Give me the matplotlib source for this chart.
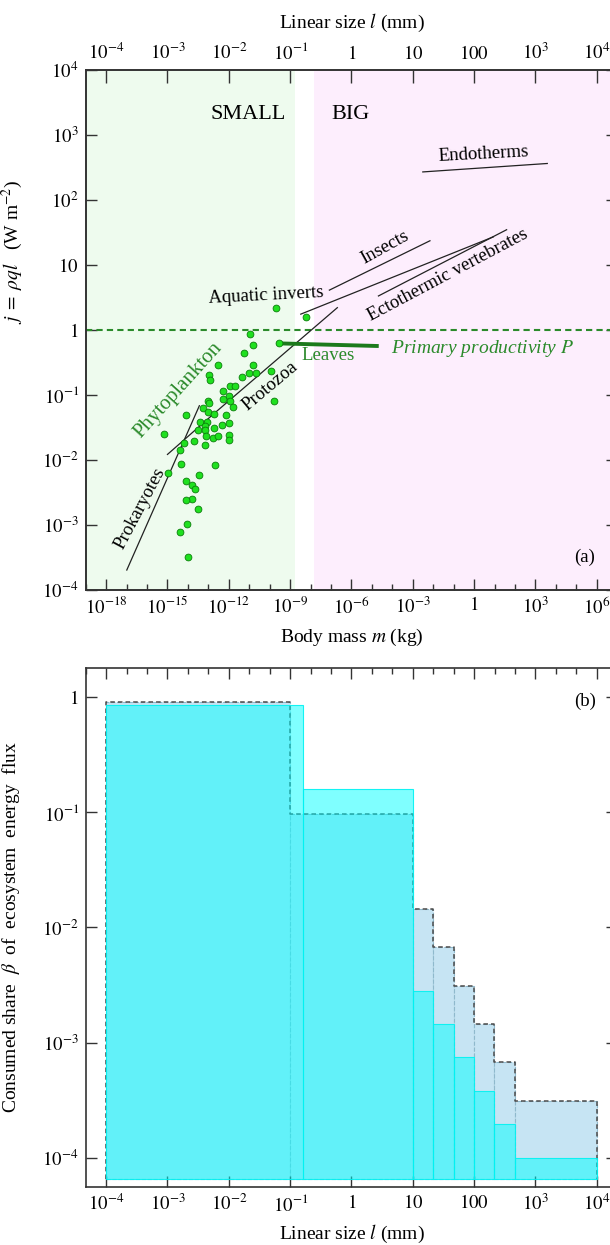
import numpy as np
import matplotlib
matplotlib.use("Agg")
import matplotlib.pyplot as plt
from matplotlib.ticker import FixedLocator, FixedFormatter, NullLocator, NullFormatter

plt.rcParams['font.family'] = ['Liberation Serif', 'DejaVu Serif']
plt.rcParams['mathtext.fontset'] = 'stix'

# ---- panel (a): phytoplankton points, log10 of body mass (kg) and flux (W m^-2)
phyto_logm = [-9.69, -8.24, -10.96, -10.84, -9.56, -11.28, -12.54, -10.84, -12.96, -10.99,
              -10.67, -11.33, -9.95, -12.91, -11.94, -11.69, -12.30, -11.97, -12.30, -11.94,
              -13.00, -12.95, -9.80, -11.81, -13.27, -13.03, -12.72, -14.07, -12.13, -13.40,
              -13.08, -11.99, -13.16, -12.34, -12.72, -13.52, -13.14, -15.15, -13.13, -12.78,
              -12.51, -11.99, -11.99, -13.68, -13.18, -14.19, -14.37, -14.35, -12.67, -14.98,
              -13.45, -14.07, -13.81, -13.65, -13.81, -14.09, -13.52, -14.06, -14.38, -14.01]
phyto_logj = [0.34, 0.19, -0.06, -0.23, -0.21, -0.36, -0.55, -0.55, -0.69, -0.67,
              -0.67, -0.73, -0.63, -0.78, -0.87, -0.87, -0.94, -1.02, -1.07, -1.09,
              -1.09, -1.13, -1.09, -1.19, -1.21, -1.26, -1.30, -1.32, -1.32, -1.42,
              -1.42, -1.44, -1.48, -1.47, -1.51, -1.55, -1.55, -1.61, -1.63, -1.66,
              -1.63, -1.62, -1.70, -1.71, -1.78, -1.74, -1.85, -2.07, -2.08, -2.20,
              -2.24, -2.33, -2.39, -2.45, -2.60, -2.62, -2.76, -2.99, -3.11, -3.50]

# allometric fits (log10 m, log10 j) end points
prok_logm, prok_logj = [-16.99, -13.44], [-3.70, -1.17]
phyto_line_logm, phyto_line_logj = [-15.00, -12.72], [-1.92, -1.29]
protozoa_logm, protozoa_logj = [-12.72, -6.69], [-1.29, 0.34]
aquatic_logm, aquatic_logj = [-8.48, 0.94], [0.24, 1.43]
ecto_logm, ecto_logj = [-4.68, 1.59], [0.52, 1.54]
insects_logm, insects_logj = [-7.08, -2.16], [0.61, 1.37]
endo_logm, endo_logj = [-2.51, 3.58], [2.43, 2.56]
leaves_logm, leaves_logj = [-9.56, -4.76], [-0.21, -0.25]
primary_P = 1.0

small_max_logm = -8.76
big_min_logm = -7.83

# ---- panel (b): consumed share beta vs linear size (mm)
total_edges = [1e-4, 1e-1, 10, 21.5, 46.4, 100, 215, 464, 1e4]
total_beta = [0.90, 0.096, 0.0144, 0.0067, 0.0031, 0.00145, 0.00068, 0.00031]
cons_edges = [1e-4, 0.165, 10, 21.5, 46.4, 100, 215, 464, 1e4]
cons_beta = [0.85, 0.16, 0.0028, 0.00145, 0.00075, 0.00038, 0.000195, 0.0001]
beta_floor = 6.6e-5

mass_ticks = [10.0**k for k in range(-18, 7, 3)]
mass_labels = ['$10^{-18}$', '$10^{-15}$', '$10^{-12}$', '$10^{-9}$', '$10^{-6}$',
               '$10^{-3}$', '$1$', '$10^{3}$', '$10^{6}$']
size_ticks = [10.0**k for k in range(-4, 5)]
size_labels = ['$10^{-4}$', '$10^{-3}$', '$10^{-2}$', '$10^{-1}$', '$1$', '$10$',
               '$100$', '$10^{3}$', '$10^{4}$']
j_ticks = [10.0**k for k in range(-4, 5)]
j_labels = ['$10^{-4}$', '$10^{-3}$', '$10^{-2}$', '$10^{-1}$', '$1$', '$10$',
            '$10^{2}$', '$10^{3}$', '$10^{4}$']
beta_ticks = [10.0**k for k in range(-4, 1)]
beta_labels = ['$10^{-4}$', '$10^{-3}$', '$10^{-2}$', '$10^{-1}$', '$1$']

GREEN = '#2b8a2b'
TXT = 13.5
TICK = 13.5
spine_col = '#333333'

fig = plt.figure(figsize=(6.10, 12.45), dpi=100)
ax = fig.add_axes([0.1405, 0.5265, 0.8713, 0.4173])
bx = fig.add_axes([0.1405, 0.0468, 0.8713, 0.4166])

def style(a):
    for s in a.spines.values():
        s.set_color(spine_col)
        s.set_linewidth(1.2)

# ---------------- panel (a)
ax.set_xscale('log')
ax.set_yscale('log')
ax.set_xlim(1e-19, 1e7)
ax.set_ylim(1e-4, 1e4)
ax.axvspan(1e-19, 10**small_max_logm, color='#eefbee', zorder=0, lw=0)
ax.axvspan(10**big_min_logm, 1e7, color='#fdeefd', zorder=0, lw=0)
ax.axhline(primary_P, color=GREEN, lw=1.5, dashes=(3, 2), zorder=2)

def seg(lm, lj, **kw):
    ax.plot(10**np.array(lm), 10**np.array(lj), **kw)

for lm, lj in [(prok_logm, prok_logj), (phyto_line_logm, phyto_line_logj),
               (protozoa_logm, protozoa_logj), (aquatic_logm, aquatic_logj),
               (ecto_logm, ecto_logj), (insects_logm, insects_logj),
               (endo_logm, endo_logj)]:
    seg(lm, lj, color='#222222', lw=0.9, zorder=3)
seg(leaves_logm, leaves_logj, color='#1c7a1c', lw=2.8, zorder=3)

ax.scatter(10**np.array(phyto_logm), 10**np.array(phyto_logj), s=24,
           facecolor='#1fe01f', edgecolor='#0b7d0b', lw=0.6, zorder=4)

def lab(logm, logj, s, rot=0, **kw):
    ax.text(10**logm, 10**logj, s, rotation=rot, ha='center', va='center',
            rotation_mode='anchor', fontsize=kw.pop('fontsize', TXT), **kw)

lab(-11.06, 3.31, 'SMALL', fontsize=16)
lab(-6.07, 3.31, 'BIG', fontsize=16)
lab(0.44, 2.71, 'Endotherms', rot=3)
lab(-4.36, 1.27, 'Insects', rot=29)
lab(-10.18, 0.52, 'Aquatic inverts', rot=3)
lab(-1.30, 0.84, 'Ectothermic vertebrates', rot=28)
lab(-7.13, -0.39, 'Leaves', color=GREEN)
lab(0.41, -0.29, 'Primary productivity $P$', color=GREEN, style='italic', fontsize=14)
lab(-9.98, -0.87, 'Protozoa', rot=40)
lab(-14.48, -0.93, 'Phytoplankton', rot=48, color=GREEN, fontsize=15)
lab(-16.34, -2.75, 'Prokaryotes', rot=62)
ax.text(0.939, 0.061, '(a)', transform=ax.transAxes, ha='center', va='center', fontsize=TXT)

ax.xaxis.set_major_locator(FixedLocator(mass_ticks))
ax.xaxis.set_major_formatter(FixedFormatter(mass_labels))
ax.xaxis.set_minor_locator(FixedLocator([10.0**k for k in range(-19, 8)]))
ax.xaxis.set_minor_formatter(NullFormatter())
ax.yaxis.set_major_locator(FixedLocator(j_ticks))
ax.yaxis.set_major_formatter(FixedFormatter(j_labels))
ax.yaxis.set_minor_locator(NullLocator())
ax.tick_params(which='major', direction='in', length=8, width=1, color=spine_col,
               labelsize=TICK, right=True, pad=5)
ax.tick_params(which='minor', direction='in', length=4, width=1, color=spine_col)
ax.set_xlabel(r'Body mass $m$ (kg)', fontsize=14, labelpad=6)
ax.set_ylabel(r'$j\;=\;\rho q l$   (W m$^{-2}$)', fontsize=14)
ax.yaxis.set_label_coords(-0.115, 0.65)
style(ax)

top = ax.twiny()
top.set_xscale('log')
top.set_xlim(10**(-13 / 3), 10**(13 / 3))
top.xaxis.set_major_locator(FixedLocator(size_ticks))
top.xaxis.set_major_formatter(FixedFormatter(size_labels))
top.xaxis.set_minor_locator(NullLocator())
top.tick_params(direction='in', length=9, width=1, color=spine_col, labelsize=TICK, pad=5)
top.set_xlabel(r'Linear size $l$ (mm)', fontsize=14, labelpad=10)
style(top)

# ---------------- panel (b)
bx.set_xscale('log')
bx.set_yscale('log')
bx.set_xlim(10**(-13 / 3), 10**(13 / 3))
bx.set_ylim(10**-4.25, 10**0.25)

te = np.array(total_edges)
bx.bar(te[:-1], np.array(total_beta) - beta_floor, width=np.diff(te), bottom=beta_floor,
       align='edge', facecolor='#c6e4f3', edgecolor='#8fb9cc', linestyle='--', lw=0.8,
       zorder=1)
ox = np.repeat(te, 2)
oy = np.concatenate([[beta_floor], np.repeat(total_beta, 2), [beta_floor]])
bx.plot(ox, oy, color='#4a4a4a', lw=1.1, dashes=(3, 2), zorder=2)

ce = np.array(cons_edges)
bx.bar(ce[:-1], np.array(cons_beta) - beta_floor, width=np.diff(ce), bottom=beta_floor,
       align='edge', facecolor=(0, 1, 1, 0.5), edgecolor=(0, 0.95, 0.95, 0.9), lw=0.8,
       zorder=3)

bx.text(0.939, 0.936, '(b)', transform=bx.transAxes, ha='center', va='center', fontsize=TXT)

bx.xaxis.set_major_locator(FixedLocator(size_ticks))
bx.xaxis.set_major_formatter(FixedFormatter(size_labels))
bx.xaxis.set_minor_locator(FixedLocator([10.0**(k / 3) for k in range(-13, 14)]))
bx.xaxis.set_minor_formatter(NullFormatter())
bx.yaxis.set_major_locator(FixedLocator(beta_ticks))
bx.yaxis.set_major_formatter(FixedFormatter(beta_labels))
bx.yaxis.set_minor_locator(NullLocator())
bx.tick_params(which='major', direction='in', length=8, width=1, color=spine_col,
               labelsize=TICK, top=True, right=True, pad=5)
bx.tick_params(which='minor', direction='in', length=4, width=1, color=spine_col,
               top=True, bottom=False)
bx.set_xlabel(r'Linear size $l$ (mm)', fontsize=14, labelpad=6)
bx.set_ylabel(r'Consumed share  $\beta$  of  ecosystem  energy  flux', fontsize=14)
bx.yaxis.set_label_coords(-0.12, 0.5)
style(bx)

fig.savefig('out.png', dpi=100)
